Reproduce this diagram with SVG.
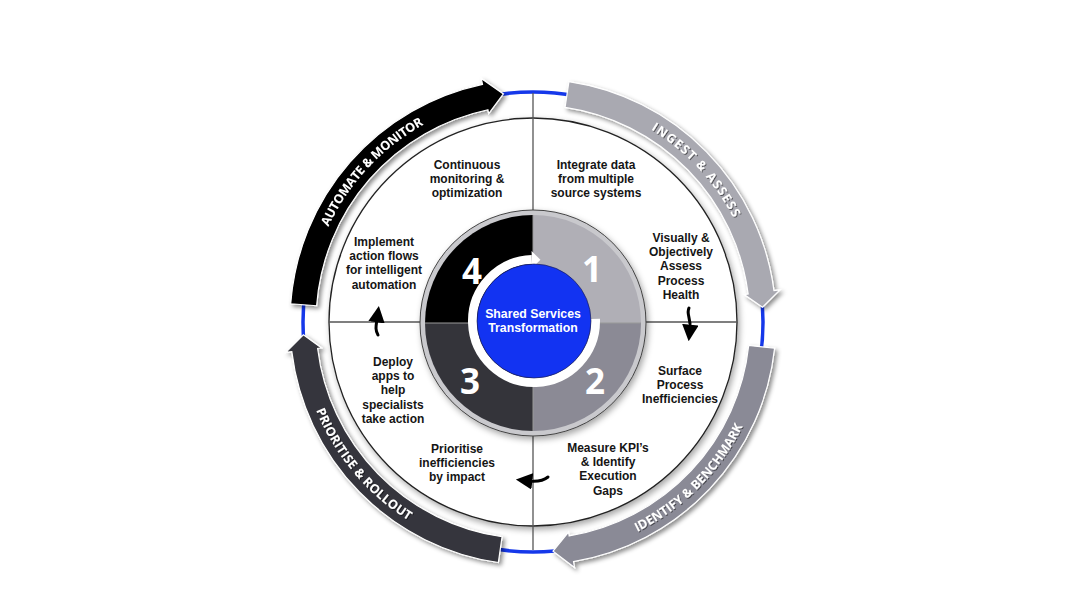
<svg xmlns="http://www.w3.org/2000/svg" width="1067" height="600" viewBox="0 0 1067 600">
<defs>
<filter id="sh" x="-20%" y="-20%" width="140%" height="140%"><feDropShadow dx="2.5" dy="2.5" stdDeviation="2" flood-color="#000" flood-opacity="0.45"/></filter>
<filter id="shc" x="-20%" y="-20%" width="140%" height="140%"><feDropShadow dx="2" dy="3" stdDeviation="3" flood-color="#000" flood-opacity="0.35"/></filter>
<filter id="tsh" x="-20%" y="-20%" width="140%" height="140%"><feDropShadow dx="1" dy="1" stdDeviation="0.6" flood-color="#000" flood-opacity="0.5"/></filter>
<path id="pA" d="M307.61,310.19 A225.7,225.7 0 0 1 505.49,97.98"/>
<path id="pI" d="M560.51,97.98 A225.7,225.7 0 0 1 758.39,310.19"/>
<path id="pB" d="M553.42,555.41 A234.3,234.3 0 0 0 766.41,342.42"/>
<path id="pP" d="M298.7,322 A234.3,234.3 0 0 0 492.31,552.74"/>
<marker id="ah" viewBox="0 0 10 10" refX="2" refY="5" markerWidth="5.5" markerHeight="5.5" orient="auto"><path d="M0,0 L10,5 L0,10 Z" fill="#000"/></marker>
</defs>
<style>
.body{font-family:"Liberation Sans",Arial,sans-serif;font-weight:700;font-size:12px;fill:#151515;text-anchor:middle}
.arc{font-family:"Open Sans","Liberation Sans",sans-serif;font-weight:700;font-size:12.5px;fill:#fff}
.num{font-family:"Open Sans","Liberation Sans",sans-serif;font-weight:700;font-size:35px;fill:#fff;text-anchor:middle}
.ctr{font-family:"Liberation Sans",Arial,sans-serif;font-weight:700;font-size:12.3px;fill:#fff;text-anchor:middle}
.band{stroke:#fff;stroke-width:1.2;filter:url(#sh)}
.small{fill:none;stroke:#000;stroke-width:3;stroke-linecap:round}
</style>
<rect width="1067" height="600" fill="#fff"/>
<g id="outer-ring"><circle cx="533" cy="322" r="230" fill="none" stroke="#1538ea" stroke-width="3.5"/></g>
<g id="main-circle"><circle cx="533" cy="322" r="204" fill="#fff" stroke="#222" stroke-width="1.3" filter="url(#shc)"/></g>
<g id="dividers" stroke="#555" stroke-width="1.3">
<line x1="533" y1="93" x2="533" y2="550"/>
<line x1="329" y1="322" x2="737" y2="322"/>
</g>
<g id="inner-disk">
<circle cx="533" cy="323" r="113" fill="#c9c9cd" stroke="#444" stroke-width="1" filter="url(#shc)"/>
<path d="M533,323 L533,215 A108,108 0 0 1 641,323 Z" fill="#b0afb6"/>
<path d="M533,323 L641,323 A108,108 0 0 1 533,431 Z" fill="#8b8a95"/>
<path d="M533,323 L533,431 A108,108 0 0 1 425,323 Z" fill="#34343a"/>
<path d="M533,323 L425,323 A108,108 0 0 1 533,215 Z" fill="#000"/>
<line x1="533" y1="215" x2="533" y2="431" stroke="#999" stroke-width="1"/>
<line x1="425" y1="323" x2="641" y2="323" stroke="#999" stroke-width="1"/>
<text class="num" x="592" y="282">1</text>
<text class="num" x="595" y="394">2</text>
<text class="num" x="470" y="394">3</text>
<text class="num" x="472" y="284">4</text>
</g>
<g id="center">
<path d="M595.46,318.85 A61.5,61.5 0 1 1 531.85,259.54" fill="none" stroke="#fff" stroke-width="9"/>
<path d="M531.56,251.04 L540.43,259.84 L532.15,268.03 Z" fill="#fff"/>
<circle cx="534" cy="321" r="57" fill="#1233f2" stroke="#1a1a40" stroke-width="0.6"/>
<text class="ctr" x="533" y="318">Shared Services</text>
<text class="ctr" x="533" y="332">Transformation</text>
</g>
<g id="arrow-automate">
<path class="band" fill="#000" d="M290.68,303.78 A243,243 0 0 1 482.48,84.31 L481.23,78.44 L503.38,93.92 L488.72,113.65 L487.88,109.74 A217,217 0 0 0 316.61,305.73 Z"/>
<text class="arc" filter="url(#tsh)"><textPath href="#pA" startOffset="50%" text-anchor="middle" textLength="142" lengthAdjust="spacing">AUTOMATE &amp; MONITOR</textPath></text>
</g>
<g id="arrow-ingest">
<path class="band" fill="#a9a9b1" d="M568.92,81.67 A243,243 0 0 1 773.98,290.70 L779.93,289.93 L762.52,307.16 L744.23,294.57 L748.19,294.05 A217,217 0 0 0 565.07,107.38 Z"/>
<text class="arc" filter="url(#tsh)"><textPath href="#pI" startOffset="50%" text-anchor="middle" textLength="122" lengthAdjust="spacing">INGEST &amp; ASSESS</textPath></text>
</g>
<g id="arrow-identify">
<path class="band" fill="#8a8a96" d="M774.58,348.24 A243,243 0 0 1 573.53,561.60 L574.53,567.51 L553.05,551.12 L568.52,532.02 L569.19,535.96 A217,217 0 0 0 748.73,345.44 Z"/>
<text class="arc" filter="url(#tsh)"><textPath href="#pB" startOffset="50%" text-anchor="middle" textLength="152" lengthAdjust="spacing">IDENTIFY &amp; BENCHMARK</textPath></text>
</g>
<g id="arrow-prioritise">
<path class="band" fill="#36363c" d="M498.34,562.52 A243,243 0 0 1 291.81,351.61 L285.86,352.35 L303.36,334.84 L321.59,347.96 L317.62,348.45 A217,217 0 0 0 502.05,536.78 Z"/>
<text class="arc" filter="url(#tsh)"><textPath href="#pP" startOffset="50%" text-anchor="middle" textLength="146" lengthAdjust="spacing">PRIORITISE &amp; ROLLOUT</textPath></text>
</g>
<g id="connectors">
<path class="small" d="M689,308 C686,314 691,318 690,328" marker-end="url(#ah)"/>
<path class="small" d="M548,477 C543,481 538,482 529,481" marker-end="url(#ah)"/>
<path class="small" d="M378,335 C375,330 376,326 377,319" marker-end="url(#ah)"/>
</g>
<g id="t-continuous"><text class="body" x="467" y="169">Continuous</text><text class="body" x="467" y="183.2">monitoring &amp;</text><text class="body" x="467" y="197.4">optimization</text></g>
<g id="t-integrate"><text class="body" x="596" y="169">Integrate data</text><text class="body" x="596" y="183.2">from multiple</text><text class="body" x="596" y="197.4">source systems</text></g>
<g id="t-visually"><text class="body" x="681" y="242">Visually &amp;</text><text class="body" x="681" y="256.2">Objectively</text><text class="body" x="681" y="270.4">Assess</text><text class="body" x="681" y="284.6">Process</text><text class="body" x="681" y="298.8">Health</text></g>
<g id="t-surface"><text class="body" x="680" y="375">Surface</text><text class="body" x="680" y="389.2">Process</text><text class="body" x="680" y="403.4">Inefficiencies</text></g>
<g id="t-measure"><text class="body" x="608" y="452">Measure KPI’s</text><text class="body" x="608" y="466.2">&amp; Identify</text><text class="body" x="608" y="480.4">Execution</text><text class="body" x="608" y="494.6">Gaps</text></g>
<g id="t-prioritise"><text class="body" x="457" y="453">Prioritise</text><text class="body" x="457" y="467.2">inefficiencies</text><text class="body" x="457" y="481.4">by impact</text></g>
<g id="t-deploy"><text class="body" x="393" y="366">Deploy</text><text class="body" x="393" y="380.2">apps to</text><text class="body" x="393" y="394.4">help</text><text class="body" x="393" y="408.6">specialists</text><text class="body" x="393" y="422.8">take action</text></g>
<g id="t-implement"><text class="body" x="384" y="246">Implement</text><text class="body" x="384" y="260.2">action flows</text><text class="body" x="384" y="274.4">for intelligent</text><text class="body" x="384" y="288.6">automation</text></g>
</svg>
